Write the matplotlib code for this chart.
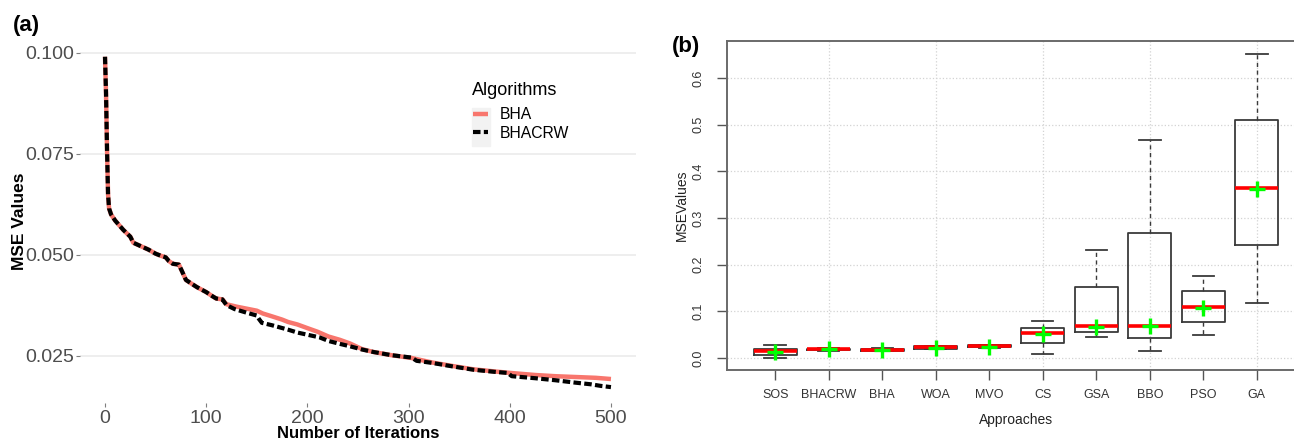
import matplotlib
matplotlib.use('Agg')
import matplotlib.pyplot as plt
from matplotlib.patches import Rectangle

plt.rcParams['font.family'] = ['Liberation Sans', 'DejaVu Sans']

# (a) convergence curves
iters_bha = [0, 1, 2, 3, 4, 6, 10, 18, 25, 28, 35, 43, 50, 55, 60, 63, 67, 73, 76, 80,
             86, 91, 100, 106, 110, 116, 120, 130, 140, 150, 156, 165, 175, 181, 190,
             201, 210, 221, 232, 242, 254, 265, 283, 303, 323, 344, 364, 384, 401, 425,
             445, 465, 485, 500]
mse_bha = [0.0990, 0.0900, 0.0760, 0.0650, 0.0615, 0.0600, 0.0585, 0.0562, 0.0545, 0.0530,
           0.0522, 0.0513, 0.0503, 0.0498, 0.0494, 0.0485, 0.0478, 0.0476, 0.0460, 0.0438,
           0.0428, 0.0420, 0.0408, 0.0398, 0.0392, 0.0390, 0.0378, 0.0372, 0.0367, 0.0362,
           0.0355, 0.0348, 0.0340, 0.0334, 0.0328, 0.0318, 0.0310, 0.0298, 0.0290, 0.0281,
           0.0267, 0.0260, 0.0252, 0.0245, 0.0234, 0.0225, 0.0217, 0.0212, 0.0208, 0.0203,
           0.0200, 0.0198, 0.0196, 0.0193]

iters_crw = [0, 1, 2, 3, 4, 6, 10, 18, 25, 28, 35, 43, 50, 55, 60, 63, 67, 73, 76, 80,
             86, 91, 100, 106, 110, 116, 120, 128, 140, 150, 152, 155, 165, 181, 190, 201,
             212, 221, 232, 242, 254, 265, 283, 303, 308, 323, 344, 364, 384, 398, 402,
             425, 445, 465, 480, 490, 500]
mse_crw = [0.0990, 0.0900, 0.0760, 0.0650, 0.0615, 0.0600, 0.0585, 0.0562, 0.0545, 0.0530,
           0.0522, 0.0513, 0.0503, 0.0498, 0.0494, 0.0485, 0.0478, 0.0476, 0.0460, 0.0438,
           0.0428, 0.0420, 0.0408, 0.0398, 0.0392, 0.0390, 0.0376, 0.0366, 0.0357, 0.0350,
           0.0342, 0.0332, 0.0326, 0.0315, 0.0308, 0.0302, 0.0296, 0.0287, 0.0280, 0.0274,
           0.0266, 0.0260, 0.0252, 0.0246, 0.0238, 0.0233, 0.0224, 0.0216, 0.0211, 0.0208,
           0.0200, 0.0195, 0.0190, 0.0184, 0.0180, 0.0176, 0.0173]

# (b) box plot summaries
approaches = ['SOS', 'BHACRW', 'BHA', 'WOA', 'MVO', 'CS', 'GSA', 'BBO', 'PSO', 'GA']
whis_low = [0.000, 0.015, 0.014, 0.019, 0.022, 0.009, 0.044, 0.015, 0.049, 0.118]
q1 = [0.007, 0.016, 0.015, 0.020, 0.023, 0.031, 0.056, 0.042, 0.077, 0.243]
median = [0.014, 0.018, 0.017, 0.023, 0.025, 0.053, 0.068, 0.069, 0.108, 0.365]
q3 = [0.020, 0.020, 0.019, 0.025, 0.027, 0.065, 0.151, 0.267, 0.143, 0.511]
whis_high = [0.027, 0.021, 0.022, 0.026, 0.028, 0.079, 0.231, 0.467, 0.176, 0.652]
means = [0.012, 0.018, 0.017, 0.022, 0.024, 0.051, 0.066, 0.068, 0.107, 0.363]

fig = plt.figure(figsize=(12.94, 4.44), dpi=100)

# ---- panel (a)
ax1 = fig.add_axes([0.0616, 0.0917, 0.4301, 0.8178])
ax1.patch.set_alpha(0)
ax1.plot(iters_bha, mse_bha, color='#F8766D', lw=3.2, label='BHA', solid_capstyle='butt')
ax1.plot(iters_crw, mse_crw, color='black', lw=3, dashes=(1.8, 0.8), label='BHACRW')
ax1.set_xlim(-25, 525)
ax1.set_ylim(0.0133, 0.1031)
ax1.set_xticks([0, 100, 200, 300, 400, 500])
ax1.set_yticks([0.025, 0.050, 0.075, 0.100])
ax1.set_yticklabels(['0.025', '0.050', '0.075', '0.100'])
ax1.grid(axis='y', color='#EBEBEB', lw=1.2)
ax1.set_axisbelow(True)
for s in ax1.spines.values():
    s.set_visible(False)
ax1.tick_params(length=3, width=0.8, color='#7F7F7F', labelcolor='#4D4D4D',
                labelsize=14)
ax1.tick_params(axis='y', pad=1)
ax1.tick_params(axis='x', pad=2)
ax1.set_xlabel('Number of Iterations', fontsize=12, fontweight='bold', labelpad=-1)
ax1.set_ylabel('MSE Values', fontsize=12.5, fontweight='bold', labelpad=-1)

# legend: grey key background as ggplot draws it
fig.patches.append(Rectangle((472 / 1294, 1 - 146 / 444), 18 / 1294, 38 / 444,
                             transform=fig.transFigure, color='#F2F2F2', zorder=-1))
fig.text(472 / 1294, 1 - 90 / 444, 'Algorithms', fontsize=13, ha='left', va='center')
ax1.legend(loc='upper left', frameon=False,
           bbox_to_anchor=(473 / 1294, 1 - 107 / 444), bbox_transform=fig.transFigure,
           fontsize=11.3, handlelength=0.95, handletextpad=0.75, labelspacing=0.25,
           borderpad=0, borderaxespad=0)

fig.text(26 / 1294, 1 - 25 / 444, '(a)', fontsize=16, fontweight='bold',
         ha='center', va='center')

# ---- panel (b)
ax2 = fig.add_axes([727 / 1294, 1 - 370 / 444, 578 / 1294, 329.3 / 444])
stats = []
for i, name in enumerate(approaches):
    stats.append(dict(label=name, whislo=whis_low[i], q1=q1[i], med=median[i],
                      q3=q3[i], whishi=whis_high[i], mean=means[i]))
ax2.bxp(stats, positions=range(1, len(approaches) + 1), widths=0.8, showmeans=True,
        showfliers=False, capwidths=0.4,
        boxprops=dict(color='#3A3A3A', lw=1.3),
        whiskerprops=dict(color='#3A3A3A', lw=1, linestyle=(0, (3, 2.5))),
        capprops=dict(color='#3A3A3A', lw=1.3),
        medianprops=dict(color='#FF0000', lw=2.6, solid_capstyle='butt'),
        meanprops=dict(marker='+', markeredgecolor='#00FF00', markersize=11,
                       markeredgewidth=2.4))
ax2.set_xlim(0.1, 10.9)
ax2.set_ylim(-0.026, 0.680)
ax2.set_yticks([0.0, 0.1, 0.2, 0.3, 0.4, 0.5, 0.6])
ax2.set_yticklabels(['0.0', '0.1', '0.2', '0.3', '0.4', '0.5', '0.6'])
for y in [0.0, 0.1, 0.2, 0.3, 0.4, 0.5, 0.6]:
    ax2.axhline(y, color='#D3D3D3', lw=0.9, linestyle=':', zorder=0)
for x in [2, 4, 6, 8, 10]:
    ax2.axvline(x, color='#D3D3D3', lw=0.9, linestyle=':', zorder=0)
for s in ax2.spines.values():
    s.set_color('#6A6A6A')
    s.set_linewidth(1.4)
ax2.tick_params(length=7, width=1, color='#555555', labelcolor='#333333', labelsize=9)
ax2.tick_params(axis='x', pad=7)
ax2.tick_params(axis='y', pad=9, labelrotation=90)
for lab in ax2.get_yticklabels():
    lab.set_va('center')
ax2.set_xlabel('Approaches', fontsize=10, color='#222222', labelpad=8)
ax2.set_ylabel('MSEValues', fontsize=10, color='#222222', labelpad=3)

fig.text(686 / 1294, 1 - 46 / 444, '(b)', fontsize=16, fontweight='bold',
         ha='center', va='center')

fig.savefig('out.png', dpi=100)
